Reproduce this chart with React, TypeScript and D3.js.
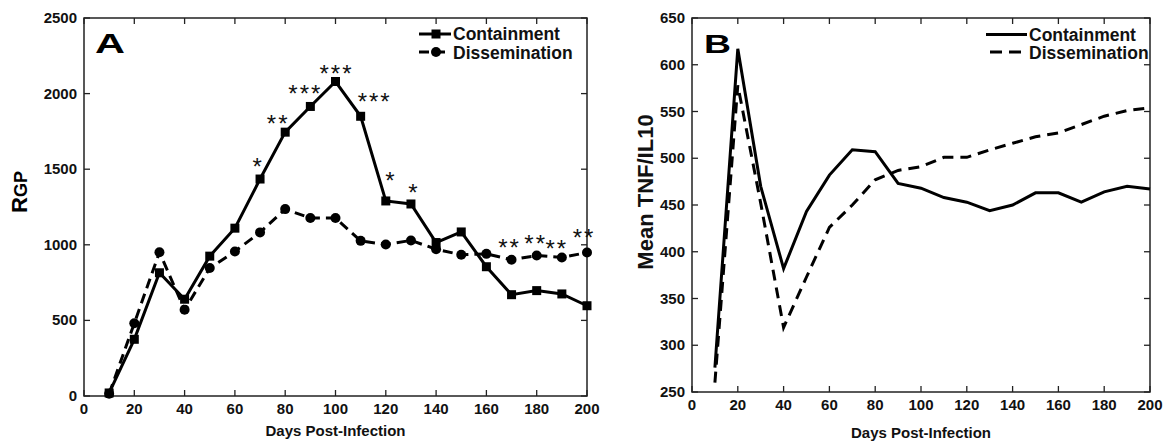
import React from "react";
import * as d3 from "d3";

const daysA = [10, 20, 30, 40, 50, 60, 70, 80, 90, 100, 110, 120, 130, 140, 150, 160, 170, 180, 190, 200];
const containmentRGP = [20, 375, 815, 640, 925, 1110, 1435, 1745, 1915, 2080, 1850, 1290, 1270, 1015, 1085, 855, 670, 697, 675, 597];
const disseminationRGP = [15, 481, 951, 570, 846, 956, 1082, 1236, 1177, 1177, 1026, 1002, 1029, 971, 934, 940, 901, 929, 916, 949];

const daysB = [10, 20, 30, 40, 50, 60, 70, 80, 90, 100, 110, 120, 130, 140, 150, 160, 170, 180, 190, 200];
const containmentRatio = [276, 617, 470, 382, 443, 482, 509, 507, 473, 468, 458, 453, 444, 450, 463, 463, 453, 464, 470, 467];
const disseminationRatio = [260, 578, 452, 319, 373, 426, 450, 477, 487, 491, 501, 501, 509, 516, 523, 527, 536, 545, 551, 554];

const starDays = [70, 80, 90, 100, 110, 120, 130, 170, 180, 190, 200];
const starLabels = ["*", "**", "***", "***", "***", "*", "*", "**", "**", "**", "**"];
const starSeries = ["C", "C", "C", "C", "C", "C", "C", "D", "D", "D", "D"];
const starOffsets = [[-2, -17], [-7, -13], [-5, -17], [1, -13], [14, -19], [5, -25], [3, -16], [-2, -17], [-1, -17], [-5, -14], [-3, -20]];

const xTicks = [0, 20, 40, 60, 80, 100, 120, 140, 160, 180, 200];
const yTicksA = [0, 500, 1000, 1500, 2000, 2500];
const yTicksB = [250, 300, 350, 400, 450, 500, 550, 600, 650];
const seriesNames = ["Containment", "Dissemination"];

const FONT = "'Liberation Sans', Arial, Helvetica, sans-serif";
const AXC = "#222";

function Frame({ x, y, xt, yt, tickLen = 6 }: any) {
  const [x0, x1] = x.range();
  const [y0, y1] = y.range();
  return (
    <g>
      <rect x={x0} y={y1} width={x1 - x0} height={y0 - y1} fill="none" stroke={AXC} strokeWidth={1.5} />
      {xt.map((t: number) => (
        <g key={"x" + t}>
          <line x1={x(t)} x2={x(t)} y1={y0} y2={y0 - tickLen} stroke={AXC} strokeWidth={1.3} />
          <line x1={x(t)} x2={x(t)} y1={y1} y2={y1 + tickLen} stroke={AXC} strokeWidth={1.3} />
          <text x={x(t)} y={y0 + 18} textAnchor="middle" fontFamily={FONT} fontWeight="bold" fontSize={15} fill="#111">{t}</text>
        </g>
      ))}
      {yt.map((t: number) => (
        <g key={"y" + t}>
          <line x1={x0} x2={x0 + tickLen} y1={y(t)} y2={y(t)} stroke={AXC} strokeWidth={1.3} />
          <line x1={x1} x2={x1 - tickLen} y1={y(t)} y2={y(t)} stroke={AXC} strokeWidth={1.3} />
          <text x={x0 - 7} y={y(t) + 5} textAnchor="end" fontFamily={FONT} fontWeight="bold" fontSize={15} fill="#111">{t}</text>
        </g>
      ))}
    </g>
  );
}

export default function App() {
  const xA = d3.scaleLinear().domain([0, 200]).range([84, 587]);
  const yA = d3.scaleLinear().domain([0, 2500]).range([396, 18]);
  const xB = d3.scaleLinear().domain([0, 200]).range([692, 1150]);
  const yB = d3.scaleLinear().domain([250, 650]).range([392, 18]);

  const lineA = (vals: number[]) =>
    d3.line<number>().x((_, i) => xA(daysA[i])).y((v) => yA(v))(vals) || "";
  const lineB = (vals: number[]) =>
    d3.line<number>().x((_, i) => xB(daysB[i])).y((v) => yB(v))(vals) || "";

  const sq = 9;
  return (
    <svg width={1170} height={441} style={{ position: "absolute", left: 0, top: 0, background: "#fff" }}>
      <rect width={1170} height={441} fill="#fff" />
      {/* Panel A */}
      <Frame x={xA} y={yA} xt={xTicks} yt={yTicksA} />
      <path d={lineA(disseminationRGP)} fill="none" stroke="#000" strokeWidth={3} strokeDasharray="10,6" />
      <path d={lineA(containmentRGP)} fill="none" stroke="#000" strokeWidth={3} />
      {disseminationRGP.map((v, i) => (
        <circle key={"dc" + i} cx={xA(daysA[i])} cy={yA(v)} r={5} fill="#000" />
      ))}
      {containmentRGP.map((v, i) => (
        <rect key={"cs" + i} x={xA(daysA[i]) - sq / 2} y={yA(v) - sq / 2} width={sq} height={sq} fill="#000" />
      ))}
      {starDays.map((d, k) => {
        const i = daysA.indexOf(d);
        const v = starSeries[k] === "C" ? containmentRGP[i] : disseminationRGP[i];
        const cx = xA(d) + starOffsets[k][0];
        const cy = yA(v) + starOffsets[k][1];
        return (
          <text key={"st" + k} x={cx} y={cy + 13} textAnchor="middle" fontFamily={FONT} fontSize={24} letterSpacing={2} fill="#111">
            {starLabels[k]}
          </text>
        );
      })}
      <text x={95} y={53} fontFamily={FONT} fontWeight="900" fontSize={28} textLength={30} lengthAdjust="spacingAndGlyphs" fill="#000">A</text>
      <text transform="translate(27,192) rotate(-90)" textAnchor="middle" fontFamily={FONT} fontWeight="bold" fill="#000">
        <tspan fontSize={22}>R</tspan><tspan fontSize={18}>GP</tspan>
      </text>
      <text x={(84 + 587) / 2} y={436} textAnchor="middle" fontFamily={FONT} fontWeight="bold" fontSize={15} fill="#111">Days Post-Infection</text>
      {/* Legend A */}
      <line x1={419} x2={451} y1={34} y2={34} stroke="#000" strokeWidth={3} />
      <rect x={436 - sq / 2} y={34 - sq / 2} width={sq} height={sq} fill="#000" />
      <line x1={419} x2={451} y1={52} y2={52} stroke="#000" strokeWidth={3} strokeDasharray="10,6" />
      <circle cx={436} cy={52} r={5} fill="#000" />
      <text x={453} y={40} fontFamily={FONT} fontWeight="bold" fontSize={17.5} fill="#111">{seriesNames[0]}</text>
      <text x={453} y={58.5} fontFamily={FONT} fontWeight="bold" fontSize={17.5} fill="#111">{seriesNames[1]}</text>

      {/* Panel B */}
      <Frame x={xB} y={yB} xt={xTicks} yt={yTicksB} />
      <path d={lineB(disseminationRatio)} fill="none" stroke="#000" strokeWidth={3} strokeDasharray="11,7" />
      <path d={lineB(containmentRatio)} fill="none" stroke="#000" strokeWidth={3} />
      <text x={704} y={53} fontFamily={FONT} fontWeight="900" fontSize={26} textLength={27} lengthAdjust="spacingAndGlyphs" fill="#000">B</text>
      <text transform="translate(653,192) rotate(-90)" textAnchor="middle" fontFamily={FONT} fontWeight="bold" fontSize={22} fill="#111">Mean TNF/IL10</text>
      <text x={(692 + 1150) / 2} y={438} textAnchor="middle" fontFamily={FONT} fontWeight="bold" fontSize={15} fill="#111">Days Post-Infection</text>
      {/* Legend B */}
      <line x1={986} x2={1027} y1={34.5} y2={34.5} stroke="#000" strokeWidth={3} />
      <line x1={990} x2={1027} y1={52} y2={52} stroke="#000" strokeWidth={3} strokeDasharray="12,7" />
      <text x={1029} y={40.5} fontFamily={FONT} fontWeight="bold" fontSize={17.5} fill="#111">{seriesNames[0]}</text>
      <text x={1029} y={58.5} fontFamily={FONT} fontWeight="bold" fontSize={17.5} fill="#111">{seriesNames[1]}</text>
    </svg>
  );
}
